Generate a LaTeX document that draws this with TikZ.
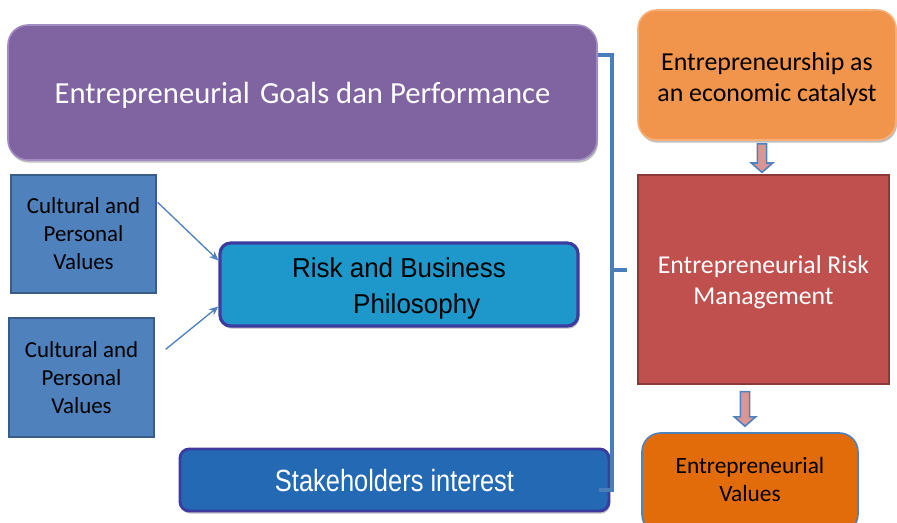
\documentclass[tikz,border=0pt]{standalone}
\usepackage{fontspec}
\setmainfont{Carlito}
\newfontfamily\arialf{Liberation Sans}
\usetikzlibrary{calc,shadows,arrows.meta}
\definecolor{purpF}{HTML}{8064A2}
\definecolor{purpD}{HTML}{A08CC0}
\definecolor{orgF}{HTML}{F2954C}
\definecolor{orgD}{HTML}{F7B07A}
\definecolor{redF}{HTML}{C0504D}
\definecolor{redD}{HTML}{8C3836}
\definecolor{org2F}{HTML}{E36C0A}
\definecolor{bluF}{HTML}{4F81BD}
\definecolor{bluD}{HTML}{385D8A}
\definecolor{cyanF}{HTML}{1E98CB}
\definecolor{navyD}{HTML}{3C3CA0}
\definecolor{stkF}{HTML}{2369B3}
\definecolor{pinkF}{HTML}{D99694}
\definecolor{brk}{HTML}{4A7EBB}
\newcommand{\ctab}[1]{\begin{tabular}{@{}c@{}}#1\end{tabular}}
\newcommand{\shiftdown}[2]{\raisebox{-#1}[\height][\depth]{#2}}
\tikzset{
  box/.style={anchor=center, align=center, inner sep=0pt},
  shad/.style={drop shadow={shadow xshift=0.8pt, shadow yshift=-2pt, opacity=0.25, fill=black}},
  thinarr/.style={draw=bluF, line width=1pt, -{Stealth[length=7pt,width=6pt]}},
  blkarrow/.style={fill=pinkF, draw=bluF, line width=1.2pt, line join=miter},
  bracketline/.style={draw=brk, line width=2.6pt}
}
\newcommand{\blkarr}[2]{\draw[blkarrow] let \p1=(#1), \p2=(#2) in
  (\x1-3.5pt,\y1) -- (\x1+3.5pt,\y1) -- (\x1+3.5pt,\y2+7pt) -- (\x1+8pt,\y2+7pt)
  -- (\x1,\y2) -- (\x1-8pt,\y2+7pt) -- (\x1-3.5pt,\y2+7pt) -- cycle;}
\begin{document}
\begin{tikzpicture}[x=0.75pt,y=-0.75pt]
\useasboundingbox (0,0) rectangle (897,522);

\coordinate (bk) at (612,270);
\coordinate (bkt) at (627,270);

\node[box, shad, fill=purpF, draw=purpD, line width=1.2pt, rounded corners=15pt,
  minimum width=589*0.75pt, minimum height=135*0.75pt, text=white,
  font={\fontsize{23}{28}\selectfont}] (goals) at (302.5,92.5)
  {\shiftdown{2pt}{Entrepreneurial\,\,Goals dan Performance}};

\node[box, shad, fill=orgF, draw=orgD, line width=1.2pt, rounded corners=14pt,
  minimum width=258*0.75pt, minimum height=130*0.75pt,
  font={\fontsize{19.4}{23.3}\selectfont}] (cat) at (767,75)
  {\shiftdown{3.7pt}{\ctab{Entrepreneurship as\\an economic catalyst}}};

\node[box, fill=redF, draw=redD, line width=1pt,
  minimum width=251*0.75pt, minimum height=209*0.75pt, text=white,
  font={\fontsize{19.3}{23.3}\selectfont}] (rm) at (763.5,279.5)
  {\shiftdown{2.3pt}{\ctab{Entrepreneurial Risk\\Management}}};

\node[box, fill=org2F, draw=bluF, line width=1.2pt, rounded corners=14pt,
  minimum width=216*0.75pt, minimum height=100*0.75pt,
  font={\fontsize{17.5}{21}\selectfont}] (ev) at (750,483)
  {\shiftdown{-0.8pt}{\ctab{Entrepreneurial\\Values}}};

\node[box, fill=bluF, draw=bluD, line width=1pt,
  minimum width=145*0.75pt, minimum height=118*0.75pt,
  font={\fontsize{17.2}{21}\selectfont}] (cv1) at (83.5,234)
  {Cultural and\\Personal\\Values};

\node[box, fill=bluF, draw=bluD, line width=1pt,
  minimum width=145*0.75pt, minimum height=119*0.75pt,
  font={\fontsize{17.2}{21}\selectfont}] (cv2) at (81.5,377.5)
  {Cultural and\\Personal\\Values};

\node[box, shad, fill=cyanF, draw=navyD, line width=2.4pt, rounded corners=8pt,
  minimum width=358*0.75pt, minimum height=83*0.75pt,
  font={\arialf\fontsize{20.5}{27}\selectfont}] (rbp) at (399,284.5)
  {\shiftdown{3pt}{\scalebox{0.95}[1]{\ctab{Risk and Business\\\hspace*{28pt}Philosophy}}}};

\node[box, shad, fill=stkF, draw=navyD, line width=2.2pt, rounded corners=7pt,
  minimum width=429*0.75pt, minimum height=62*0.75pt, text=white,
  font={\arialf\fontsize{23}{27}\selectfont}] (stake) at (394.5,480)
  {\shiftdown{0.6pt}{\scalebox{0.83}[1]{Stakeholders interest}}};

% bracket connector
\draw[bracketline] (goals.east |- 0,55) -| (bk) |- ($(stake.east |- 0,490)+(-11,0)$);
\draw[bracketline] (bk) -- (bkt);

% thin arrows
\draw[thinarr] ($(cv1.north east)+(1,28)$) -- ($(rbp.west)+(0,-24)$);
\draw[thinarr] ($(cv2.north east)+(11,32)$) -- ($(rbp.west)+(0,22)$);

% block arrows
\coordinate (a1s) at ($(cat.south)+(-5,3)$);
\coordinate (a1e) at ($(a1s |- rm.north)+(0,-2)$);
\blkarr{a1s}{a1e}
\coordinate (a2s) at ($(rm.south)+(-18.5,7)$);
\coordinate (a2e) at ($(a2s |- ev.north)+(0,-6)$);
\blkarr{a2s}{a2e}
\end{tikzpicture}
\end{document}
